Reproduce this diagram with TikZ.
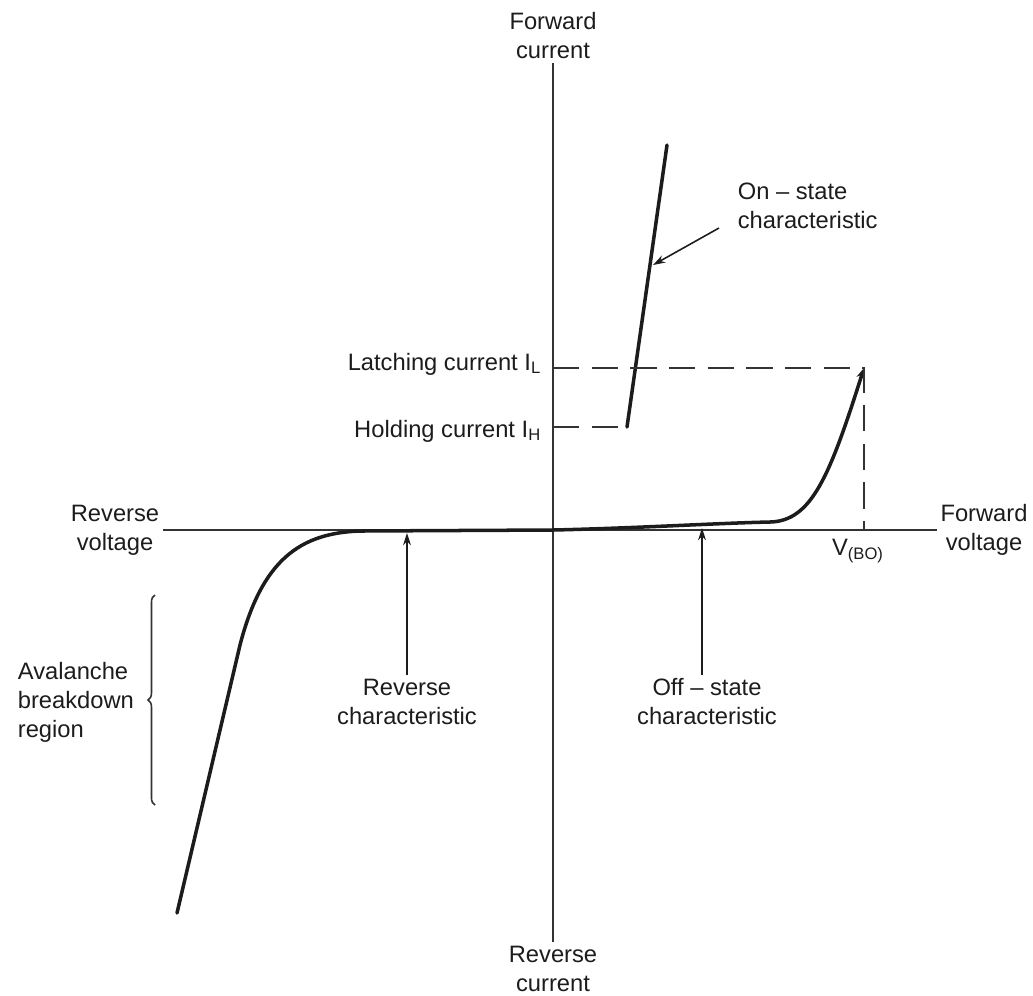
\documentclass[tikz,border=0pt]{standalone}
\usepackage{fontspec}
\setmainfont{Liberation Sans}
\usepackage{tikz}
\usetikzlibrary{positioning, calc, arrows.meta, decorations.pathreplacing}
\definecolor{ScrInk}{HTML}{1C1C1C}
\definecolor{ScrAxis}{HTML}{333333}

\begin{document}
\begin{tikzpicture}[x=0.02cm, y=-0.02cm,
    lbl/.style={font=\fontsize{13.5}{16.5}\selectfont, text=ScrInk, align=center, inner sep=2pt},
    axis/.style={ScrAxis, line width=1pt},
    curve/.style={ScrInk, line width=2pt, line join=round, line cap=round},
    guide/.style={ScrAxis, line width=1pt, dash pattern=on 15pt off 7pt},
    pointer/.style={ScrInk, line width=0.9pt, -{Stealth[length=7pt, width=4.5pt]}}]
  \useasboundingbox (0,0) rectangle (1033,995);
  %% Axes
  \coordinate (O) at (553,530);
  \node[lbl] (fwdI) at (553,36) {Forward\\current};
  \node[lbl] (revI) at (553,969) {Reverse\\current};
  \node[lbl] (revV) at (115,530) {Reverse\\voltage};
  \node[lbl] (fwdV) at (984,530) {Forward\\voltage};
  \draw[axis] (fwdI.south) -- (revI.north);
  \draw[axis] (revV.east) -- (fwdV.west);
  %% Reverse characteristic and avalanche region
  \draw[curve] (O) -- (360,531) .. controls (300,533) and (262,560) .. (240,645) -- (177,913);
  %% Off-state characteristic up to breakover
  \draw[curve, -{Stealth[length=6pt, width=5pt]}] (O) .. controls (640,528) and (720,523) .. (770,522)
        .. controls (812,521) and (830,475) .. (864,368);
  %% On-state characteristic
  \coordinate (IH) at (627,427);
  \coordinate (ontop) at (667,145);
  \draw[curve] (IH) -- (ontop);
  %% Latching / holding levels and breakover voltage
  \coordinate (VBO) at (864,368);
  \draw[guide] (O |- VBO) -- (VBO) -- (VBO |- O);
  \draw[guide] (O |- IH) -- (IH);
  \node[lbl, anchor=base east] (latch) at (545,370) {Latching current I\textsubscript{L}};
  \node[lbl, anchor=base east] (hold) at (545,437) {Holding current I\textsubscript{H}};
  \node[lbl] (vbo) at (858,551) {V\textsubscript{(BO)}};
  %% Pointer labels
  \node[lbl, align=left, anchor=west] (onst) at (734,206) {On -- state\\characteristic};
  \coordinate (ontip) at (653,265);
  \draw[pointer] (onst.west) ++(-15,22) -- (ontip);
  \node[lbl] (revch) at (407,702) {Reverse\\characteristic};
  \node[lbl] (offch) at (707,702) {Off -- state\\characteristic};
  \coordinate (revtip) at (407,533);
  \coordinate (offtip) at (702,528);
  \draw[pointer] (revch.north) -- (revtip);
  \draw[pointer] (offch.north -| offtip) -- (offtip);
  %% Avalanche breakdown region
  \coordinate (brtop) at (155,595);
  \coordinate (brbot) at (155,805);
  \draw[ScrAxis, line width=0.9pt, decorate, decoration={brace, amplitude=4pt}] (brbot) -- (brtop);
  \node[lbl, align=left, anchor=west] (aval) at (14,702) {Avalanche\\breakdown\\region};
\end{tikzpicture}
\end{document}
